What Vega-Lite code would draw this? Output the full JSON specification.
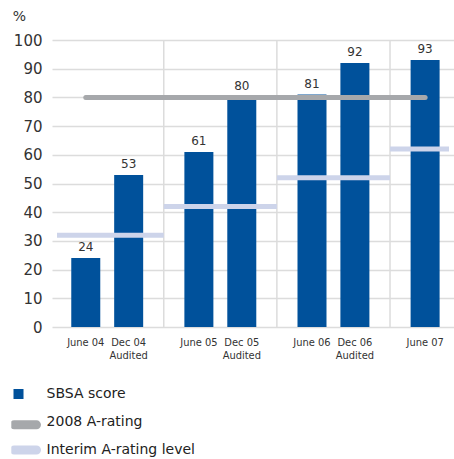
{
  "$schema": "https://vega.github.io/schema/vega-lite/v6.json",
  "width": 402,
  "height": 287,
  "autosize": "none",
  "padding": {"left": 52, "top": 40, "right": 0, "bottom": 132},
  "config": {
    "view": {"stroke": null},
    "font": "DejaVu Sans",
    "axisY": {"tickCount": 11, "labelOverlap": false, "domain": false, "ticks": false, "labelPadding": 10, "labelFont": "DejaVu Sans", "labelFontSize": 15, "labelColor": "#333", "gridColor": "#dcdcdc", "gridWidth": 1.5}
  },
  "datasets": {
    "scores": [
      {"period": "June 04", "label": "June 04", "pos": 29.5, "score": 24},
      {"period": "Dec 04", "label": "Dec 04\nAudited", "pos": 73.5, "score": 53},
      {"period": "June 05", "label": "June 05", "pos": 145.5, "score": 61},
      {"period": "Dec 05", "label": "Dec 05\nAudited", "pos": 189.5, "score": 80},
      {"period": "June 06", "label": "June 06", "pos": 261.5, "score": 81},
      {"period": "Dec 06", "label": "Dec 06\nAudited", "pos": 305.5, "score": 92},
      {"period": "June 07", "label": "June 07", "pos": 377.5, "score": 93}
    ],
    "separators": [{"pos": 109.5}, {"pos": 225.5}, {"pos": 341.5}],
    "interim": [
      {"start": 0, "end": 109.5, "level": 32},
      {"start": 109.5, "end": 225.5, "level": 42},
      {"start": 225.5, "end": 341.5, "level": 52},
      {"start": 341.5, "end": 402, "level": 62}
    ],
    "target": [{"start": 29.5, "end": 377.5, "level": 80}]
  },
  "layer": [
    {
      "data": {"name": "separators"},
      "mark": {"type": "rule", "color": "#dcdcdc", "strokeWidth": 1.5},
      "encoding": {
        "x": {"field": "pos", "type": "quantitative", "scale": {"domain": [0, 402], "nice": false, "zero": false}, "axis": null}
      }
    },
    {
      "data": {"name": "scores"},
      "mark": {"type": "bar", "size": 29},
      "encoding": {
        "x": {"field": "pos", "type": "quantitative"},
        "y": {
          "field": "score", "type": "quantitative",
          "scale": {"domain": [0, 100], "nice": false},
          "axis": {
            "title": "%", "titleAngle": 0, "titleX": -33, "titleY": -24, "titleAlign": "center", "titleBaseline": "middle",
            "titleFont": "DejaVu Sans", "titleFontSize": 14, "titleFontWeight": "normal", "titleColor": "#333",
            "values": [0, 10, 20, 30, 40, 50, 60, 70, 80, 90, 100], "tickCount": 11
          }
        },
        "color": {
          "datum": "SBSA score", "type": "nominal",
          "scale": {"domain": ["SBSA score", "2008 A-rating", "Interim A-rating level"], "range": ["#00519b", "#a6a8ab", "#cdd4ea"]},
          "legend": {
            "orient": "none", "legendX": -40.7, "legendY": 339.75, "title": null, "padding": 0,
            "rowPadding": 0, "clipHeight": 27.5, "labelOffset": 7.3, "labelFont": "DejaVu Sans", "labelFontSize": 14, "labelColor": "#222",
            "labelLimit": 300, "symbolSize": 342,
            "encode": {
              "symbols": {
                "update": {
                  "shape": {"signal": "datum.value === 'SBSA score' ? 'M-1.32,-1M1.32,1M-0.79,0H-0.68V0.1H-0.79Z' : (datum.value === '2008 A-rating' ? 'M-1.32,-1M1.32,1M-1.21,0.36H1.21' : 'M-1.32,-1M1.32,1M-1.21,0.05H1.21')"},
                  "size": {"value": 342},
                  "fill": {"signal": "datum.value === 'SBSA score' ? '#00519b' : 'transparent'"},
                  "stroke": {"signal": "datum.value === 'SBSA score' ? '#00519b' : (datum.value === '2008 A-rating' ? '#a6a8ab' : '#cdd4ea')"},
                  "strokeWidth": {"value": 9},
                  "strokeCap": {"signal": "datum.value === 'SBSA score' ? 'butt' : 'round'"},
                  "strokeJoin": {"value": "miter"},
                  "opacity": {"value": 1}
                }
              }
            }
          }
        }
      }
    },
    {
      "data": {"name": "scores"},
      "mark": {"type": "text", "baseline": "alphabetic", "dy": -7, "fontSize": 12, "color": "#333", "font": "DejaVu Sans"},
      "encoding": {
        "x": {"field": "pos", "type": "quantitative"},
        "y": {"field": "score", "type": "quantitative"},
        "text": {"field": "score", "type": "quantitative"}
      }
    },
    {
      "data": {"name": "interim"},
      "mark": {"type": "rule", "strokeWidth": 5, "strokeCap": "butt"},
      "encoding": {
        "x": {"field": "start", "type": "quantitative"},
        "x2": {"field": "end"},
        "y": {"field": "level", "type": "quantitative"},
        "color": {"datum": "Interim A-rating level", "type": "nominal"}
      }
    },
    {
      "data": {"name": "target"},
      "mark": {"type": "rule", "strokeWidth": 5, "strokeCap": "round"},
      "encoding": {
        "x": {"field": "start", "type": "quantitative"},
        "x2": {"field": "end"},
        "y": {"field": "level", "type": "quantitative"},
        "color": {"datum": "2008 A-rating", "type": "nominal"}
      }
    },
    {
      "data": {"name": "scores"},
      "mark": {"type": "text", "baseline": "top", "dy": 10, "fontSize": 11, "lineHeight": 12.5, "lineBreak": "\n", "color": "#333", "font": "Liberation Sans Narrow, DejaVu Sans Condensed, sans-serif"},
      "encoding": {
        "x": {"field": "pos", "type": "quantitative"},
        "y": {"datum": 0, "type": "quantitative"},
        "text": {"field": "label", "type": "nominal"}
      }
    }
  ]
}
